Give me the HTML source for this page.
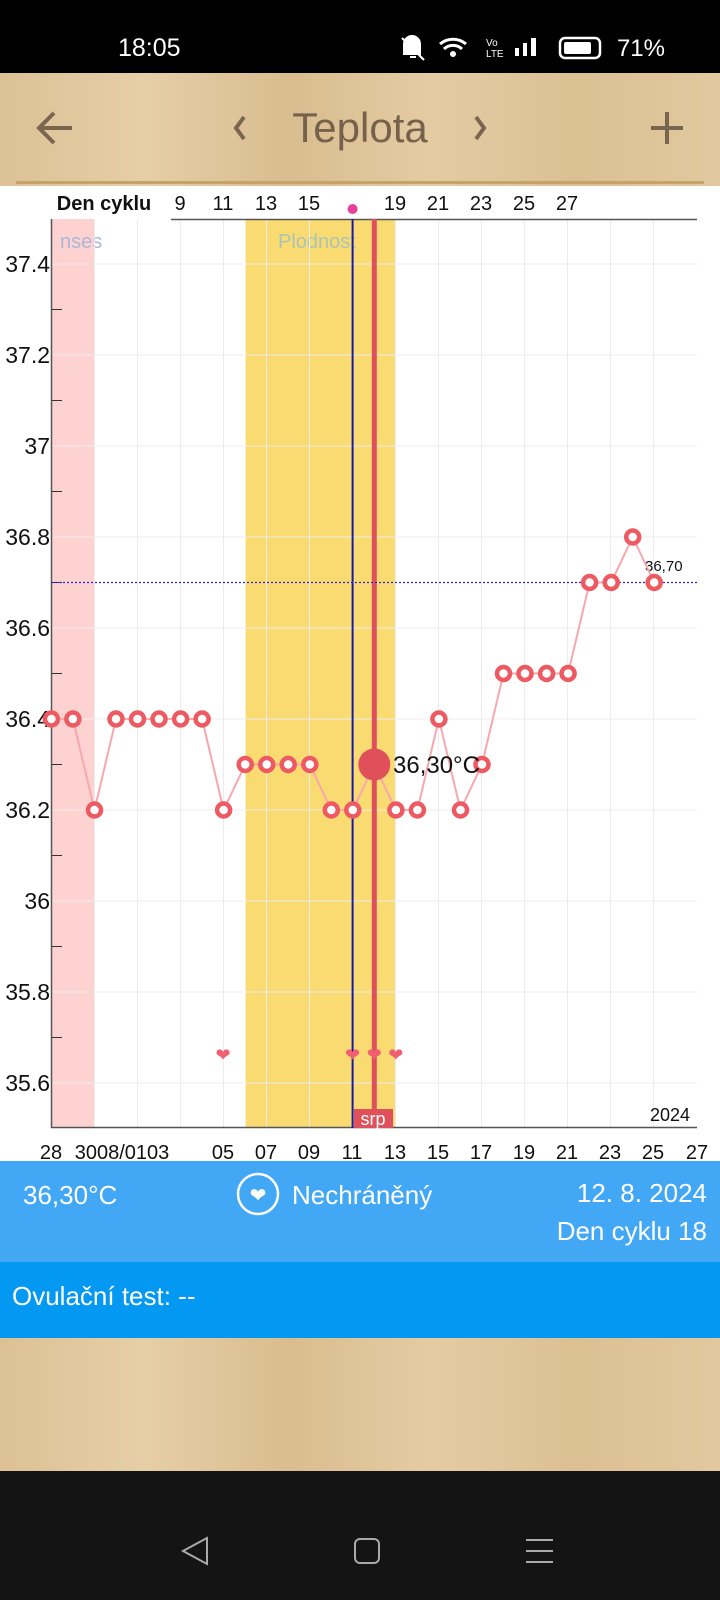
<!DOCTYPE html>
<html><head><meta charset="utf-8"><style>
body{margin:0;width:720px;height:1600px;overflow:hidden;font-family:"Liberation Sans",sans-serif;background:#fff}
svg{display:block}
</style></head><body>
<svg width="720" height="1600" viewBox="0 0 720 1600" xmlns="http://www.w3.org/2000/svg" font-family="Liberation Sans, sans-serif">
<defs>
<linearGradient id="wood" x1="0" x2="1" y1="0" y2="0">
<stop offset="0" stop-color="#dcc195"/><stop offset="0.2" stop-color="#e6cea6"/><stop offset="0.4" stop-color="#d9bd90"/><stop offset="0.6" stop-color="#e4cba2"/><stop offset="0.8" stop-color="#dbc094"/><stop offset="1" stop-color="#e2c89e"/>
</linearGradient>
</defs>
<rect x="0" y="0" width="720" height="73" fill="#000"/>
<text x="118" y="56" fill="#fff" font-size="25">18:05</text>
<text x="665" y="56" fill="#fff" font-size="24" text-anchor="end">71%</text>
<rect x="560" y="38" width="40" height="20" rx="5" fill="none" stroke="#fff" stroke-width="2.5"/>
<rect x="564" y="42" width="27" height="12" rx="2" fill="#fff"/>
<rect x="515" y="48" width="4" height="8" fill="#fff"/><rect x="523" y="43" width="4" height="13" fill="#fff"/><rect x="531" y="38" width="5" height="18" fill="#fff"/>
<path d="M404 54 V44 a8 8 0 0 1 16 0 V54 Z M410 57 h6" fill="#fff" stroke="#fff" stroke-width="2"/>
<line x1="402" y1="38" x2="424" y2="60" stroke="#fff" stroke-width="2"/>
<path d="M440 44 a20 20 0 0 1 26 0 M444 49 a13 13 0 0 1 18 0" stroke="#fff" stroke-width="3" fill="none"/><circle cx="453" cy="54" r="3" fill="#fff"/>
<text x="486" y="46" fill="#fff" font-size="10">Vo</text><text x="486" y="57" fill="#fff" font-size="10">LTE</text>
<rect x="0" y="73" width="720" height="113" fill="url(#wood)"/>
<rect x="16" y="181" width="688" height="3" fill="#c8a26b"/>
<path d="M40 128 H72 M54 113 L39 128 L54 143" stroke="#7a6650" stroke-width="4" fill="none"/>
<path d="M244 117 L236 128 L244 139" stroke="#7a6650" stroke-width="4" fill="none"/>
<path d="M476 117 L484 128 L476 139" stroke="#7a6650" stroke-width="4" fill="none"/>
<text x="360" y="142" fill="#76624c" font-size="42" text-anchor="middle">Teplota</text>
<path d="M651 128 H683 M667 112 V144" stroke="#7a6650" stroke-width="4"/>
<rect x="0" y="186" width="720" height="975" fill="#fff"/>
<rect x="51.4" y="219" width="42.7" height="909" fill="#ffd2d2"/>
<rect x="245.6" y="219" width="149.3" height="909" fill="#f9db71"/>
<text x="60" y="248" fill="#aab8d8" font-size="20">nses</text>
<text x="278" y="248" fill="#a9c6b5" font-size="20">Plodnost</text>
<g stroke="#ececec" stroke-width="1">
<line x1="94.5" y1="219" x2="94.5" y2="1128"/><line x1="137.5" y1="219" x2="137.5" y2="1128"/><line x1="180.5" y1="219" x2="180.5" y2="1128"/><line x1="223.5" y1="219" x2="223.5" y2="1128"/><line x1="266.5" y1="219" x2="266.5" y2="1128"/><line x1="309.5" y1="219" x2="309.5" y2="1128"/><line x1="395.5" y1="219" x2="395.5" y2="1128"/><line x1="438.5" y1="219" x2="438.5" y2="1128"/><line x1="481.5" y1="219" x2="481.5" y2="1128"/><line x1="524.5" y1="219" x2="524.5" y2="1128"/><line x1="567.5" y1="219" x2="567.5" y2="1128"/><line x1="610.5" y1="219" x2="610.5" y2="1128"/><line x1="653.5" y1="219" x2="653.5" y2="1128"/>
<line x1="51" y1="264" x2="697" y2="264"/><line x1="51" y1="355" x2="697" y2="355"/><line x1="51" y1="446" x2="697" y2="446"/><line x1="51" y1="537" x2="697" y2="537"/><line x1="51" y1="628" x2="697" y2="628"/><line x1="51" y1="719" x2="697" y2="719"/><line x1="51" y1="810" x2="697" y2="810"/><line x1="51" y1="901" x2="697" y2="901"/><line x1="51" y1="992" x2="697" y2="992"/><line x1="51" y1="1083" x2="697" y2="1083"/>
</g>
<g stroke="#333" stroke-width="1">
<line x1="51" y1="309.5" x2="62" y2="309.5"/><line x1="51" y1="400.5" x2="62" y2="400.5"/><line x1="51" y1="491.5" x2="62" y2="491.5"/><line x1="51" y1="582.5" x2="62" y2="582.5"/><line x1="51" y1="673.5" x2="62" y2="673.5"/><line x1="51" y1="764.5" x2="62" y2="764.5"/><line x1="51" y1="855.5" x2="62" y2="855.5"/><line x1="51" y1="946.5" x2="62" y2="946.5"/><line x1="51" y1="1037.5" x2="62" y2="1037.5"/>
</g>
<line x1="51.5" y1="219" x2="51.5" y2="1128" stroke="#555" stroke-width="1.5"/>
<line x1="51" y1="1127.5" x2="697" y2="1127.5" stroke="#555" stroke-width="1.5"/>
<line x1="171" y1="219.5" x2="697" y2="219.5" stroke="#555" stroke-width="1.5"/>
<g font-size="23" fill="#111" text-anchor="end">
<text x="50" y="272">37.4</text><text x="50" y="363">37.2</text><text x="50" y="454">37</text><text x="50" y="545">36.8</text><text x="50" y="636">36.6</text><text x="50" y="727">36.4</text><text x="50" y="818">36.2</text><text x="50" y="909">36</text><text x="50" y="1000">35.8</text><text x="50" y="1091">35.6</text>
</g>
<g font-size="20" fill="#111" text-anchor="middle">
<text x="104" y="210" font-weight="bold">Den cyklu</text>
<text x="180" y="210">9</text><text x="223" y="210">11</text><text x="266" y="210">13</text><text x="309" y="210">15</text><text x="395" y="210">19</text><text x="438" y="210">21</text><text x="481" y="210">23</text><text x="524" y="210">25</text><text x="567" y="210">27</text>
</g>
<circle cx="352.6" cy="209" r="5" fill="#e8409a"/>
<g font-size="20" fill="#111" text-anchor="middle">
<text x="51" y="1159">28</text><text x="122" y="1159">3008/0103</text><text x="223" y="1159">05</text><text x="266" y="1159">07</text><text x="309" y="1159">09</text><text x="352" y="1159">11</text><text x="395" y="1159">13</text><text x="438" y="1159">15</text><text x="481" y="1159">17</text><text x="524" y="1159">19</text><text x="567" y="1159">21</text><text x="610" y="1159">23</text><text x="653" y="1159">25</text><text x="697" y="1159">27</text>
</g>
<text x="690" y="1121" font-size="18" fill="#111" text-anchor="end">2024</text>
<line x1="352.6" y1="219" x2="352.6" y2="1128" stroke="#1a1aa8" stroke-width="2"/>
<line x1="374.3" y1="219" x2="374.3" y2="1128" stroke="#e0505a" stroke-width="5"/>
<rect x="354" y="1109" width="39" height="19" fill="#e0505a"/>
<text x="373" y="1125" font-size="18" fill="#fff" text-anchor="middle">srp</text>
<line x1="51" y1="582.5" x2="697" y2="582.5" stroke="#2a2ad0" stroke-width="1.3" stroke-dasharray="2,2"/>
<text x="645" y="571" font-size="15" fill="#111">36,70</text>
<g font-size="18" fill="#f06070" text-anchor="middle">
<text x="223" y="1061">❤</text><text x="352.6" y="1061">❤</text><text x="374.3" y="1061">❤</text><text x="395.8" y="1061">❤</text>
</g>
<polyline fill="none" stroke="#f7a8ae" stroke-width="2" points="51.4,719 72.9,719 94.5,810 116,719 137.5,719 159,719 180.6,719 202.1,719 223.6,810 245.2,764.5 266.7,764.5 288.2,764.5 309.8,764.5 331.3,810 352.8,810 374.3,764.5 395.9,810 417.4,810 438.9,719 460.5,810 482,764.5 503.5,673.5 525,673.5 546.6,673.5 568.1,673.5 589.6,582.5 611.2,582.5 632.7,537 654.2,582.5"/>
<g fill="#fff" stroke="#ee5a62" stroke-width="4.5">
<circle cx="51.4" cy="719" r="6.5"/><circle cx="72.9" cy="719" r="6.5"/><circle cx="94.5" cy="810" r="6.5"/><circle cx="116" cy="719" r="6.5"/><circle cx="137.5" cy="719" r="6.5"/><circle cx="159" cy="719" r="6.5"/><circle cx="180.6" cy="719" r="6.5"/><circle cx="202.1" cy="719" r="6.5"/><circle cx="223.6" cy="810" r="6.5"/><circle cx="245.2" cy="764.5" r="6.5"/><circle cx="266.7" cy="764.5" r="6.5"/><circle cx="288.2" cy="764.5" r="6.5"/><circle cx="309.8" cy="764.5" r="6.5"/><circle cx="331.3" cy="810" r="6.5"/><circle cx="352.8" cy="810" r="6.5"/><circle cx="395.9" cy="810" r="6.5"/><circle cx="417.4" cy="810" r="6.5"/><circle cx="438.9" cy="719" r="6.5"/><circle cx="460.5" cy="810" r="6.5"/><circle cx="482" cy="764.5" r="6.5"/><circle cx="503.5" cy="673.5" r="6.5"/><circle cx="525" cy="673.5" r="6.5"/><circle cx="546.6" cy="673.5" r="6.5"/><circle cx="568.1" cy="673.5" r="6.5"/><circle cx="589.6" cy="582.5" r="6.5"/><circle cx="611.2" cy="582.5" r="6.5"/><circle cx="632.7" cy="537" r="6.5"/><circle cx="654.2" cy="582.5" r="6.5"/>
</g>
<circle cx="374.3" cy="764.5" r="16" fill="#e0505a"/>
<text x="393" y="773" font-size="24" fill="#111">36,30°C</text>
<rect x="0" y="1161" width="720" height="101" fill="#42a7f5"/>
<rect x="0" y="1262" width="720" height="76" fill="#0398f2"/>
<g fill="#fff" font-size="26">
<text x="23" y="1204">36,30°C</text>
<text x="292" y="1204">Nechráněný</text>
<text x="707" y="1202" text-anchor="end">12. 8. 2024</text>
<text x="707" y="1240" text-anchor="end">Den cyklu 18</text>
<text x="12" y="1305">Ovulační test: --</text>
</g>
<circle cx="258" cy="1194" r="20" fill="none" stroke="#fff" stroke-width="2.5"/>
<text x="258" y="1202" font-size="20" fill="#fff" text-anchor="middle">❤</text>
<rect x="0" y="1338" width="720" height="133" fill="url(#wood)"/>
<rect x="0" y="1471" width="720" height="129" fill="#141414"/>
<path d="M207 1538 L183 1551 L207 1564 Z" fill="none" stroke="#aaa" stroke-width="2"/>
<rect x="355" y="1539" width="24" height="24" rx="5" fill="none" stroke="#aaa" stroke-width="2"/>
<path d="M526 1540 H553 M526 1551 H553 M526 1562 H553" stroke="#aaa" stroke-width="2"/>
</svg>
</body></html>
